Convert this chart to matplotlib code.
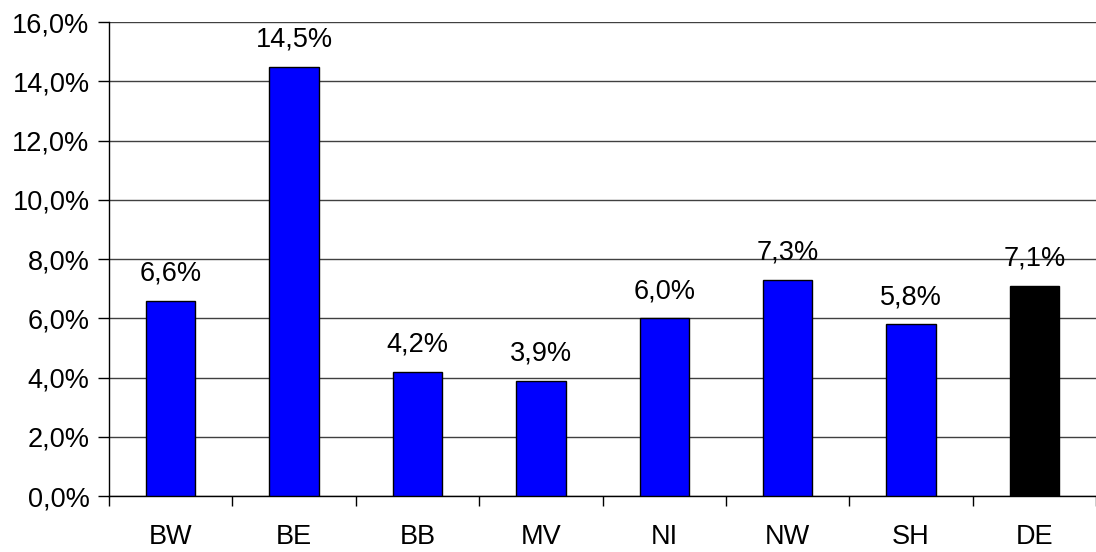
import numpy as np
import matplotlib
matplotlib.use("Agg")
import matplotlib.pyplot as plt
from matplotlib.ticker import FixedLocator

plt.rcParams["font.family"] = ["Liberation Sans", "DejaVu Sans"]

categories = ["BW", "BE", "BB", "MV", "NI", "NW", "SH", "DE"]
values = [6.6, 14.5, 4.2, 3.9, 6.0, 7.3, 5.8, 7.1]
colors = ["#0000ff"] * 7 + ["#000000"]
yticks = [0, 2, 4, 6, 8, 10, 12, 14, 16]

FS = 19.5


def pct(v):
    return f"{v:.1f}%".replace(".", ",")


fig = plt.figure(figsize=(10.96, 5.52), dpi=100)
ax = fig.add_axes([0.0995, 0.1014, 0.9005, 0.8586])

x = np.arange(len(categories))
ax.bar(x, values, width=0.4, color=colors, edgecolor="black", linewidth=1, zorder=3)
for xi, v in zip(x, values):
    ax.annotate(pct(v), (xi, v), xytext=(0, 10), textcoords="offset points",
                ha="center", va="bottom", fontsize=FS)

ax.set_xlim(-0.5, len(categories) - 0.5)
ax.set_ylim(0, 16)
ax.set_yticks(yticks)
ax.set_yticklabels([pct(t) for t in yticks], fontsize=FS)
ax.yaxis.grid(True, color="#404040", linewidth=1, zorder=0)

ax.set_xticks(x)
ax.set_xticklabels(categories, fontsize=FS)
ax.tick_params(axis="x", which="major", length=0, pad=20)
ax.xaxis.set_minor_locator(FixedLocator(np.arange(-0.5, len(categories), 1)))
ax.tick_params(axis="x", which="minor", length=7, width=1, color="black")
ax.tick_params(axis="y", length=8, width=1, pad=6)

for s in ("top", "right"):
    ax.spines[s].set_visible(False)
ax.spines["left"].set_linewidth(1)
ax.spines["bottom"].set_linewidth(1)

fig.savefig("out.png", dpi=100)
